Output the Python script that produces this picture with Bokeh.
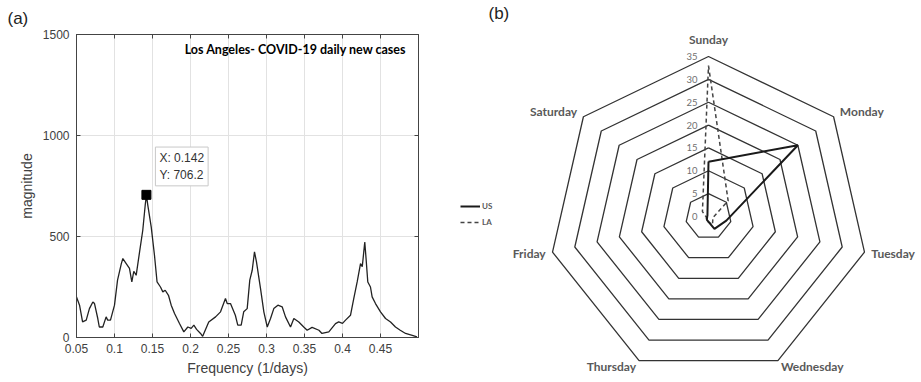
import math
from bokeh.plotting import figure
from bokeh.models import (Label, LinearAxis, FixedTicker, Range1d, Legend, LegendItem,
                          ColumnDataSource, Title)
from bokeh.layouts import row
from bokeh.embed import file_html
from bokeh.resources import INLINE
from bokeh.core.properties import value

# ---------------- Panel (a) data: spectrum ----------------
freq = [0.050, 0.054, 0.058, 0.0628, 0.067, 0.0715, 0.0737, 0.078, 0.080, 0.0846,
        0.089, 0.091, 0.0947, 0.100, 0.104, 0.109, 0.111, 0.1154, 0.1197, 0.1228,
        0.1254, 0.1285, 0.133, 0.1372, 0.1404, 0.142, 0.1438, 0.1483, 0.1526, 0.156,
        0.1605, 0.1636, 0.1667, 0.171, 0.1746, 0.179, 0.1855, 0.1912, 0.1965, 0.2009,
        0.2044, 0.208, 0.2132, 0.216, 0.224, 0.233, 0.2395, 0.246, 0.2483, 0.2526,
        0.259, 0.2622, 0.2667, 0.270, 0.2746, 0.278, 0.2812, 0.2842, 0.2868, 0.2921,
        0.2965, 0.301, 0.3053, 0.3096, 0.315, 0.3206, 0.325, 0.3316, 0.336, 0.3425,
        0.349, 0.3535, 0.360, 0.369, 0.373, 0.382, 0.3908, 0.395, 0.400, 0.404,
        0.4105, 0.4148, 0.4193, 0.4237, 0.426, 0.428, 0.4293, 0.431, 0.4333, 0.4368,
        0.439, 0.4434, 0.450, 0.4566, 0.4632, 0.4697, 0.476, 0.483, 0.4918, 0.498]
mag = [201, 160, 77, 86, 143, 176, 168, 94, 52, 52,
       102, 86, 86, 160, 284, 366, 391, 366, 342, 275,
       328, 308, 424, 531, 655, 706.2, 655, 548, 407, 275,
       250, 226, 234, 209, 160, 119, 69, 28, 52, 45,
       61, 40, 20, 6, 77, 102, 127, 193, 168, 168,
       110, 61, 61, 127, 143, 284, 333, 424, 374, 243,
       127, 52, 94, 143, 160, 152, 102, 52, 94, 77,
       52, 36, 50, 36, 20, 28, 69, 77, 70, 86,
       110, 193, 275, 366, 350, 424, 473, 391, 275, 250,
       201, 168, 127, 94, 77, 52, 36, 20, 11, 3]
peak_freq = 0.142
peak_mag = 706.2
x_ticks = [0.05, 0.1, 0.15, 0.2, 0.25, 0.3, 0.35, 0.4, 0.45]
x_tick_labels = ["0.05", "0.1", "0.15", "0.2", "0.25", "0.3", "0.35", "0.4", "0.45"]
y_ticks = [0, 500, 1000, 1500]
y_tick_labels = ["0", "500", "1000", "1500"]

# ---------------- Panel (b) data: radar ----------------
days = ["Sunday", "Monday", "Tuesday", "Wednesday", "Thursday", "Friday", "Saturday"]
us = [12, 25, 4, 3, 0.8, 0.3, 0.3]
la = [33, 5.5, 1, 2, 1, 0.5, 1.7]
ring_levels = [5, 10, 15, 20, 25, 30, 35]
ring_ticks = [0, 5, 10, 15, 20, 25, 30, 35]
ring_tick_labels = ["0", "5", "10", "15", "20", "25", "30", "35"]

TICK_FONT = "Liberation Sans"
AX_COLOR = "#444444"

# ================= Panel (a) =================
pa = figure(width=440, height=382, x_range=Range1d(0.05, 0.5), y_range=Range1d(0, 1500),
            output_backend="svg", toolbar_location=None,
            min_border_left=76, min_border_right=22, min_border_top=0, min_border_bottom=45)
pa.frame_align = False
pa.background_fill_color = "white"
pa.outline_line_color = AX_COLOR
pa.outline_line_width = 1
pa.title = Title(text="(a)", align="left", offset=-69, text_font=TICK_FONT,
                 text_font_size="17px", text_font_style="normal", text_color="#222222",
                 standoff=13)

pa.xaxis.ticker = FixedTicker(ticks=x_ticks)
pa.yaxis.ticker = FixedTicker(ticks=y_ticks)
pa.xaxis.major_label_overrides = {t: s for t, s in zip(x_ticks, x_tick_labels)}
pa.yaxis.major_label_overrides = {t: s for t, s in zip(y_ticks, y_tick_labels)}
pa.xgrid.ticker = FixedTicker(ticks=x_ticks)
pa.ygrid.ticker = FixedTicker(ticks=y_ticks)
pa.grid.grid_line_color = "#e2e2e2"
pa.grid.grid_line_width = 1

for ax in (pa.xaxis[0], pa.yaxis[0]):
    ax.major_tick_in = 4
    ax.major_tick_out = 0
    ax.minor_tick_line_color = None
    ax.axis_line_color = AX_COLOR
    ax.major_tick_line_color = AX_COLOR
    ax.major_label_text_font = TICK_FONT
    ax.major_label_text_font_size = "12px"
    ax.major_label_text_color = "#404040"
    ax.axis_label_text_font = TICK_FONT
    ax.axis_label_text_font_size = "14px"
    ax.axis_label_text_font_style = "normal"
    ax.axis_label_text_color = "#404040"
pa.xaxis.axis_label = "Frequency (1/days)"
pa.yaxis.axis_label = "magnitude"
pa.xaxis.major_label_standoff = 6
pa.xaxis.axis_label_standoff = 4
pa.yaxis.major_label_standoff = 7
pa.yaxis.axis_label_standoff = 5

for loc, tk in (("right", y_ticks), ("above", x_ticks)):
    ax = LinearAxis(ticker=FixedTicker(ticks=tk), major_tick_in=4, major_tick_out=0,
                    minor_tick_line_color=None, axis_line_color=AX_COLOR,
                    major_tick_line_color=AX_COLOR,
                    major_label_overrides={t: "" for t in tk},
                    major_label_standoff=0)
    pa.add_layout(ax, loc)

pa.line(freq, mag, line_color="#222222", line_width=1.3)
pa.scatter([peak_freq], [peak_mag], marker="square", size=9,
           fill_color="black", line_color="black")

pa.add_layout(Label(x=peak_freq, y=peak_mag, x_offset=9, y_offset=9,
                    text="X: %.3f\nY: %.1f" % (peak_freq, peak_mag),
                    text_font=TICK_FONT, text_font_size="12px", text_color="#333333",
                    text_align="left", text_baseline="bottom",
                    background_fill_color="white", border_line_color="#c8c8c8",
                    padding=4))

pa.add_layout(Label(x=330, y=288, x_units="screen", y_units="screen",
                    text="Los Angeles- COVID-19 daily new cases",
                    text_font="Lato", text_font_style="bold", text_font_size="12.5px",
                    text_color="black", text_align="right", text_baseline="middle"))

# ================= Panel (b) =================
k = 160 / 35.0  # pixels per radar unit
pb = figure(width=481, height=382, x_range=Range1d(-268 / k, 213 / k),
            y_range=Range1d(-166 / k, 216 / k), output_backend="svg",
            toolbar_location=None, min_border_left=0, min_border_right=0,
            min_border_top=0, min_border_bottom=0)
pb.frame_align = False
pb.axis.visible = False
pb.grid.visible = False
pb.outline_line_color = None

n = len(days)
angles = [2 * math.pi * i / n for i in range(n)]

ring_xs, ring_ys = [], []
for L in ring_levels:
    ring_xs.append([L * math.sin(a) for a in angles] + [0.0])
    ring_ys.append([L * math.cos(a) for a in angles] + [L])
pb.multi_line(ring_xs, ring_ys, line_color="#333333", line_width=1.3)


def closed(vals):
    xs = [v * math.sin(a) for v, a in zip(vals, angles)]
    ys = [v * math.cos(a) for v, a in zip(vals, angles)]
    return xs + xs[:1], ys + ys[:1]


ux, uy = closed(us)
lx, ly = closed(la)
r_la = pb.line(lx, ly, line_color="#444444", line_width=1.5, line_dash="4 3")
r_us = pb.line(ux, uy, line_color="#1a1a1a", line_width=2)

R = ring_levels[-1]
offs = [17, 8, 7, 7, 7, 7, 8]
aligns = ["center", "left", "left", "left", "right", "right", "right"]
lab_x = [(R + o / k) * math.sin(a) for o, a in zip(offs, angles)]
lab_y = [(R + o / k) * math.cos(a) for o, a in zip(offs, angles)]
src = ColumnDataSource(dict(x=lab_x, y=lab_y, t=days, al=aligns))
pb.text(x="x", y="y", text="t", text_align="al", source=src, text_baseline="middle",
        text_font=value("Lato"), text_font_style="bold", text_font_size="12px",
        text_color="#595959")

pb.text(x=[-11 / k] * len(ring_ticks), y=ring_ticks, text=ring_tick_labels,
        text_align="right", text_baseline="middle", text_font=value("Lato"),
        text_font_size="9.5px", text_color="#707070")

pb.text(x=[-220 / k], y=[203 / k], text=["(b)"], text_align="left", text_baseline="middle",
        text_font=value(TICK_FONT), text_font_size="17px", text_color="#222222")

legend = Legend(items=[LegendItem(label="US", renderers=[r_us]),
                       LegendItem(label="LA", renderers=[r_la])],
                location=(20, 153), glyph_width=20, glyph_height=14, label_height=14,
                spacing=2, padding=0, margin=0, border_line_color=None,
                background_fill_alpha=0, label_text_font="Lato",
                label_text_font_style="bold", label_text_font_size="8px",
                label_text_color="#595959", label_standoff=2)
pb.add_layout(legend)

layout = row(pa, pb)
open("out.html", "w").write(file_html(layout, INLINE))
